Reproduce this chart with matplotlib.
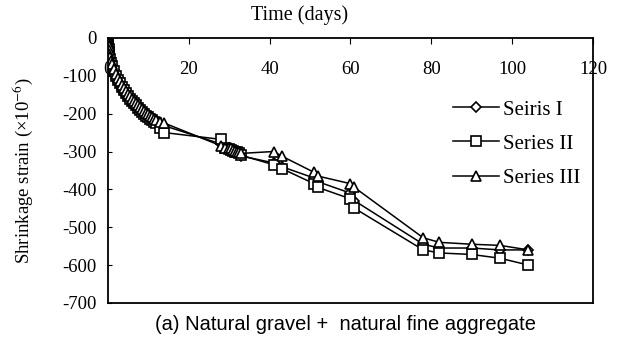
import matplotlib.pyplot as plt

# time (days) and shrinkage strain (x10^-6)
days = [0, 0.05, 0.1, 0.2, 0.3, 0.4, 0.5, 0.75, 1, 1.5, 2, 2.5, 3, 3.5, 4, 4.5, 5, 5.5, 6,
        6.5, 7, 7.5, 8, 8.5, 9, 9.5, 10, 10.5, 11, 11.5, 12, 13, 14,
        28, 29, 30, 30.5, 31, 31.5, 32, 32.5, 33, 41, 43, 51, 52, 60, 61, 78, 82, 90, 97, 104]

series_1 = [0, -8, -15, -25, -35, -45, -52, -62, -72, -85, -97, -108, -118, -127, -135,
            -143, -150, -157, -163, -169, -175, -181, -186, -192, -197, -202, -206, -211,
            -215, -219, -222, -228, -232,
            -280, -288, -292, -295, -298, -300, -303, -306, -312, -330, -340, -370, -380,
            -410, -430, -545, -555, -555, -560, -560]
series_2 = [0, -10, -18, -28, -38, -48, -55, -65, -75, -88, -100, -110, -120, -129, -138,
            -146, -153, -160, -166, -172, -178, -184, -190, -195, -200, -205, -210, -214,
            -218, -222, -225, -238, -250,
            -268, -290, -293, -295, -298, -300, -302, -305, -310, -335, -345, -385, -395,
            -425, -450, -560, -568, -572, -582, -600]
series_3 = [0, -6, -12, -22, -32, -42, -50, -60, -70, -82, -95, -105, -115, -124, -132,
            -140, -147, -154, -160, -166, -172, -178, -183, -188, -193, -198, -202, -206,
            -210, -213, -216, -221, -225,
            -285, -290, -291, -292, -295, -298, -300, -302, -305, -300, -312, -355, -365,
            -385, -395, -528, -540, -545, -548, -560]

labels = ["Seiris I", "Series II", "Series III"]
markers = ["D", "s", "^"]
msizes = [5.5, 6.5, 7]

serif = "Liberation Serif"
plt.rcParams["axes.unicode_minus"] = False
plt.rcParams["mathtext.fontset"] = "stix"

fig = plt.figure(figsize=(6.23, 3.45), dpi=100)
ax = fig.add_axes([0.173, 0.122, 0.779, 0.768])

for vals, lab, mk, ms in zip([series_1, series_2, series_3], labels, markers, msizes):
    ax.plot(days, vals, color="black", linewidth=1.1, marker=mk, markersize=ms,
            markerfacecolor="white", markeredgecolor="black", markeredgewidth=1.2,
            label=lab)

ax.set_xlim(0, 120)
ax.set_ylim(-700, 0)
ax.set_xticks(range(0, 121, 20))
ax.set_yticks(range(-700, 1, 100))

# x axis sits on top, labels hang just below the top spine
ax.xaxis.set_label_position("top")
ax.tick_params(axis="x", top=True, bottom=False, labeltop=True, labelbottom=False,
               direction="in", length=4, pad=-29)
ax.tick_params(axis="y", direction="in", length=3, pad=8)
for t in ax.get_xticklabels() + ax.get_yticklabels():
    t.set_fontfamily(serif)
    t.set_fontsize(13.5)

ax.set_xlabel("Time (days)", fontfamily=serif, fontsize=14.5)
ax.xaxis.set_label_coords(0.396, 1.068)
ax.set_ylabel("Shrinkage strain (\u00d710$^{-6}$)", fontfamily=serif, fontsize=13.5)
ax.yaxis.set_label_coords(-0.15, 0.5)

for s in ax.spines.values():
    s.set_linewidth(1.3)

ax.legend(loc="center left", bbox_to_anchor=(0.69, 0.6), frameon=False,
          prop={"family": serif, "size": 15}, handlelength=2.2, handletextpad=0.2,
          labelspacing=0.7, borderpad=0)

fig.text(0.555, 0.058, "(a) Natural gravel +  natural fine aggregate",
         ha="center", va="center", fontfamily="Liberation Sans", fontsize=14.5)

fig.savefig("out.png", dpi=100)
